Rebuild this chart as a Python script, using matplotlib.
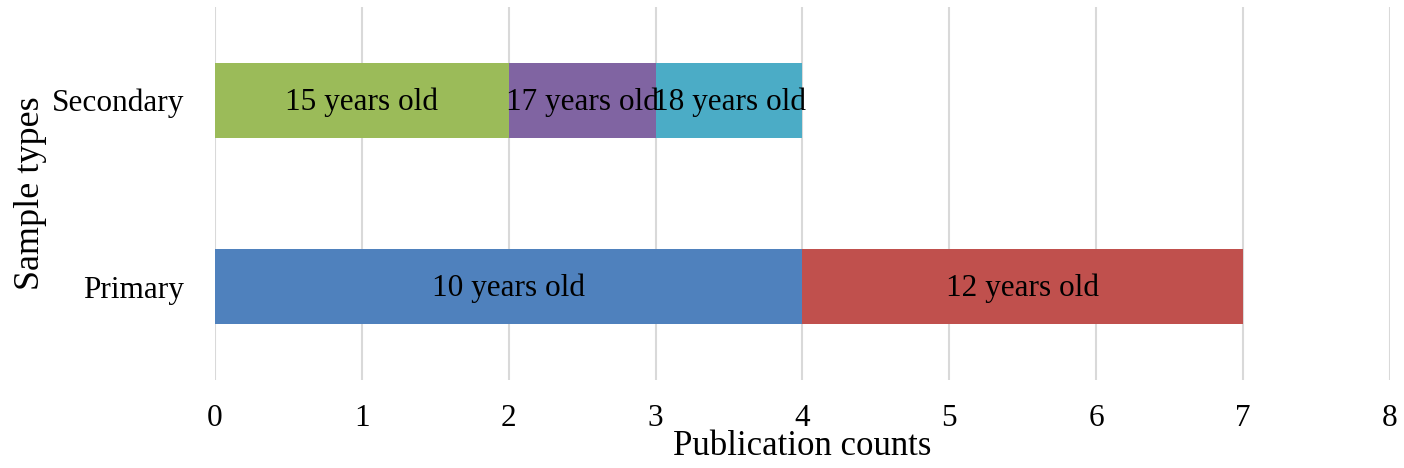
import matplotlib
matplotlib.use('Agg')
import matplotlib.pyplot as plt

categories = ['Primary', 'Secondary']
# (category, start, width, label, color)
segments = [
    ('Primary', 0, 4, '10 years old', '#4F81BD'),
    ('Primary', 4, 3, '12 years old', '#C0504D'),
    ('Secondary', 0, 2, '15 years old', '#9BBB59'),
    ('Secondary', 2, 1, '17 years old', '#8064A2'),
    ('Secondary', 3, 1, '18 years old', '#4BACC6'),
]
xticks = [0, 1, 2, 3, 4, 5, 6, 7, 8]

plt.rcParams['font.family'] = ['Liberation Serif', 'DejaVu Serif']

fig = plt.figure(figsize=(14.04, 4.68), dpi=100)
ax = fig.add_axes([215 / 1404, 88 / 468, 1175 / 1404, 373 / 468])

for cat, start, width, label, color in segments:
    y = categories.index(cat)
    ax.barh(y, width, left=start, height=0.4, color=color, zorder=2)
    ax.text(start + width / 2, y - 0.01, label, ha='center', va='center',
            fontsize=22.5, color='black', zorder=3)

ax.set_xlim(0, 8)
ax.set_ylim(-0.5, 1.5)
ax.set_xticks(xticks)
ax.set_yticks(range(len(categories)))
ax.set_yticklabels(categories)
ax.tick_params(axis='both', length=0, labelsize=22.5)
ax.tick_params(axis='x', pad=17)
ax.tick_params(axis='y', pad=22)
ax.grid(axis='x', color='#D9D9D9', linewidth=1.5, zorder=0)
for s in ax.spines.values():
    s.set_visible(False)
ax.set_xlabel('Publication counts', fontsize=25, labelpad=-2)
ax.set_ylabel('Sample types', fontsize=26, labelpad=4)

fig.savefig('out.png', dpi=100)
